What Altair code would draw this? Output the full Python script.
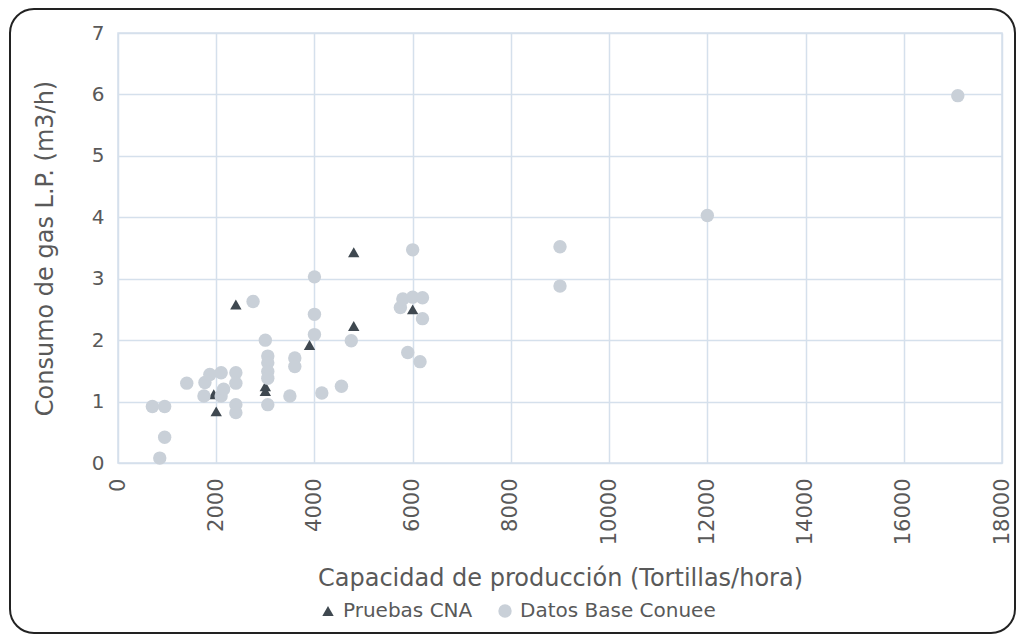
import altair as alt
import pandas as pd

# Datos Base Conuee (circles)
conuee_x = [700, 950, 950, 850, 1400, 1750, 1770, 1870, 2100, 2100, 2150, 2400, 2400, 2400, 2400,
            2750, 3000, 3050, 3050, 3050, 3050, 3050, 3500, 3600, 3600, 4000, 4000, 4000, 4150,
            4550, 4750, 5750, 5800, 6000, 6200, 6000, 6200, 5900, 6150, 9000, 9000, 12000, 17100]
conuee_y = [0.92, 0.92, 0.42, 0.08, 1.30, 1.09, 1.31, 1.44, 1.47, 1.09, 1.20, 1.47, 1.30, 0.95, 0.82,
            2.63, 2.00, 1.74, 1.63, 1.49, 1.38, 0.95, 1.09, 1.71, 1.57, 3.03, 2.42, 2.09, 1.14,
            1.25, 1.99, 2.53, 2.67, 2.70, 2.69, 3.47, 2.35, 1.80, 1.65, 3.52, 2.88, 4.03, 5.98]

# Pruebas CNA (triangles)
cna_x = [2400, 2000, 1950, 3000, 3000, 3900, 4800, 4800, 6000]
cna_y = [2.58, 0.84, 1.12, 1.25, 1.17, 1.92, 3.43, 2.23, 2.50]

series = ["Pruebas CNA", "Datos Base Conuee"]
x_ticks = list(range(0, 18001, 2000))
y_ticks = list(range(0, 8))

df = pd.concat([
    pd.DataFrame({"x": cna_x, "y": cna_y, "serie": series[0], "order": 0}),
    pd.DataFrame({"x": conuee_x, "y": conuee_y, "serie": series[1], "order": 1}),
])

FONT = "DejaVu Sans"
TXT = "#595959"

legend = alt.Legend(title=None, orient="none", direction="horizontal",
                    legendX=200, legendY=568, labelFontSize=20, labelLimit=400,
                    labelFont=FONT, labelColor=TXT, symbolSize=70,
                    columnPadding=22, labelOffset=5)

points = alt.Chart(df).mark_point(filled=True, opacity=1, strokeWidth=0).encode(
    x=alt.X("x:Q", scale=alt.Scale(domain=[0, 18000], nice=False),
            axis=alt.Axis(values=x_ticks, format="d",
                          title="Capacidad de producción (Tortillas/hora)",
                          labelAngle=270, labelAlign="right", labelBaseline="middle",
                          labelPadding=15, labelFontSize=21,
                          titleY=115, titleBaseline="middle")),
    y=alt.Y("y:Q", scale=alt.Scale(domain=[0, 7], nice=False),
            axis=alt.Axis(values=y_ticks, title="Consumo de gas L.P. (m3/h)",
                          labelPadding=14, labelFontSize=20,
                          titleX=-73, titleBaseline="middle")),
    shape=alt.Shape("serie:N", scale=alt.Scale(domain=series, range=["triangle-up", "circle"]),
                    legend=legend),
    color=alt.Color("serie:N", scale=alt.Scale(domain=series, range=["#3f4850", "#c9d0d8"]),
                    legend=legend),
    size=alt.Size("serie:N", scale=alt.Scale(domain=series, range=[130, 180]), legend=None),
    order=alt.Order("order:Q"),
)

frame = alt.Chart(pd.DataFrame({"a": [0]})).mark_rect(
    fill=None, stroke="#222222", strokeWidth=2, cornerRadius=24
).encode(
    x=alt.value(-108), x2=alt.value(897), y=alt.value(-24), y2=alt.value(600)
)

chart = alt.layer(points, frame).properties(
    width=884, height=430,
    autosize=alt.AutoSizeParams(type="none"),
    padding={"left": 110, "top": 25, "right": 15, "bottom": 174},
).configure_view(
    stroke="#d5e0ec", strokeWidth=1.5
).configure_axis(
    grid=True, gridColor="#d5e0ec", gridWidth=1.5, domain=False, ticks=False,
    labelFont=FONT, titleFont=FONT, labelColor=TXT, titleColor=TXT,
    titleFontSize=24, titleFontWeight="normal"
)

chart.save("out.html", embed_options={"renderer": "svg", "actions": False})
